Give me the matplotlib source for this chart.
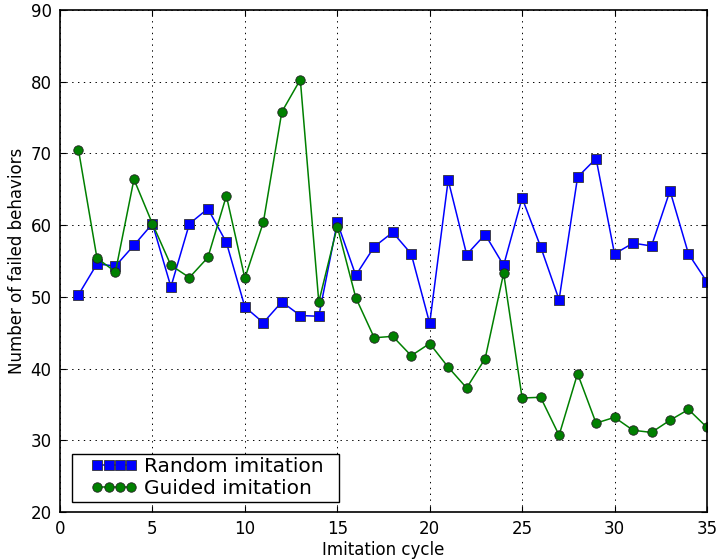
import matplotlib
matplotlib.use("Agg")
import matplotlib.pyplot as plt
from matplotlib.lines import Line2D
from matplotlib.legend_handler import HandlerLine2D

plt.rcParams['lines.scale_dashes'] = False

cycles = list(range(1, 36))
random_imitation = [50.3, 54.6, 54.3, 57.2, 60.2, 51.4, 60.2, 62.3, 57.6, 48.6,
                    46.4, 49.3, 47.4, 47.3, 60.4, 53.0, 57.0, 59.0, 56.0, 46.3,
                    66.3, 55.9, 58.7, 54.4, 63.8, 57.0, 49.6, 66.7, 69.3, 56.0,
                    57.5, 57.1, 64.8, 56.0, 52.1]
guided_imitation = [70.5, 55.4, 53.5, 66.4, 60.2, 54.4, 52.7, 55.5, 64.1, 52.6,
                    60.4, 75.8, 80.3, 49.3, 59.8, 49.9, 44.3, 44.5, 41.8, 43.5,
                    40.2, 37.3, 41.4, 53.3, 35.9, 36.0, 30.7, 39.3, 32.4, 33.2,
                    31.4, 31.1, 32.8, 34.3, 31.8]
xticks = [0, 5, 10, 15, 20, 25, 30, 35]
yticks = [20, 30, 40, 50, 60, 70, 80, 90]

fig = plt.figure(figsize=(7.17, 5.6), dpi=100)
ax = fig.add_axes([0.0837, 0.0857, 0.9023, 0.8963])

ax.plot(cycles, random_imitation, color=(0, 0, 1), marker='s', markersize=6.8,
        markeredgecolor='#333333', markeredgewidth=0.6, linewidth=1.1,
        label='Random imitation')
ax.plot(cycles, guided_imitation, color=(0, 0.5, 0), marker='o', markersize=6.8,
        markeredgecolor='#222222', markeredgewidth=0.6, linewidth=1.1,
        label='Guided imitation')

ax.set_xlim(0, 35)
ax.set_ylim(20, 90)
ax.set_xticks(xticks)
ax.set_yticks(yticks)
ax.tick_params(direction='in', top=True, right=True, labelsize=12, length=4, pad=6)
ax.grid(True, color='black', linestyle=(0, (1, 3.2)), linewidth=0.7)
for s in ax.spines.values():
    s.set_linewidth(1.2)

ax.set_xlabel('Imitation cycle', fontsize=12, labelpad=2)
ax.set_ylabel('Number of failed behaviors', fontsize=12, labelpad=3)

leg = ax.legend(loc='lower left', mode='expand', numpoints=4, fontsize=14.5,
                fancybox=False, framealpha=1, edgecolor='black',
                handlelength=3.85, handletextpad=-0.45,
                borderaxespad=0.0, borderpad=0.18, labelspacing=0.15,
                bbox_to_anchor=(0.0186, 0.0199, 0.4127, 0.1),
                handler_map={Line2D: HandlerLine2D(marker_pad=1.08)})
leg.get_frame().set_linewidth(1.0)

fig.savefig('out.png', dpi=100)
